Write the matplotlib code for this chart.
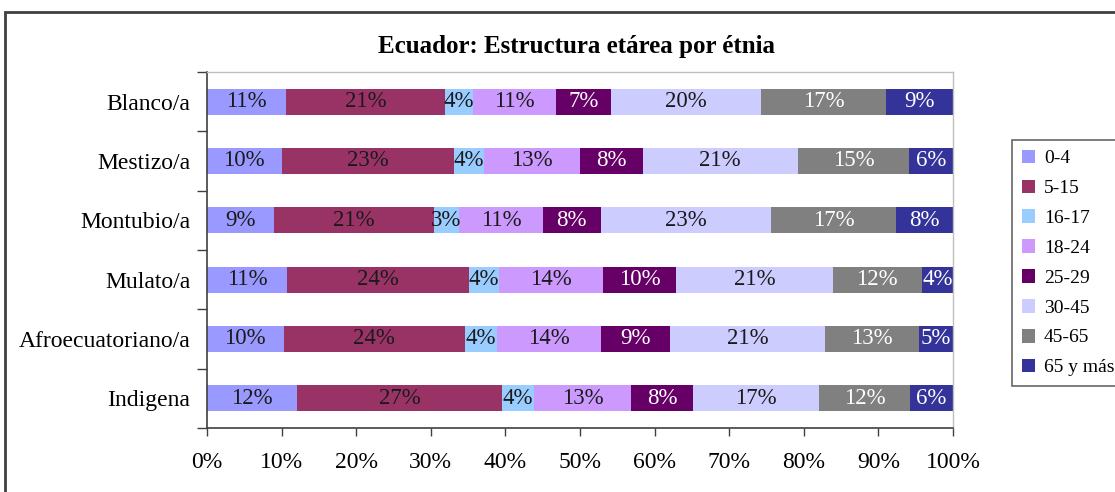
import matplotlib
matplotlib.use("Agg")
import matplotlib.pyplot as plt
from matplotlib.patches import Rectangle
import numpy as np

categories = ["Blanco/a", "Mestizo/a", "Montubio/a", "Mulato/a", "Afroecuatoriano/a", "Indigena"]
age_groups = ["0-4", "5-15", "16-17", "18-24", "25-29", "30-45", "45-65", "65 y más"]
# shares (%) per ethnic group, in age-group order
blanco = [10.6, 21.3, 3.8, 11.1, 7.3, 20.2, 16.7, 9.0]
mestizo = [10.0, 23.1, 4.0, 12.9, 8.4, 20.8, 14.9, 5.9]
montubio = [9.0, 21.4, 3.4, 11.2, 7.8, 22.8, 16.8, 7.6]
mulato = [10.7, 24.4, 4.1, 13.9, 9.8, 21.0, 11.9, 4.2]
afro = [10.3, 24.3, 4.3, 14.0, 9.3, 20.8, 12.6, 4.6]
indigena = [12.1, 27.4, 4.4, 13.0, 8.2, 17.0, 12.1, 5.8]
data = [blanco, mestizo, montubio, mulato, afro, indigena]

colors = ["#9999FF", "#993366", "#99CCFF", "#CC99FF", "#660066", "#CCCCFF", "#808080", "#333399"]
text_colors = ["#1a1a1a", "#1a1a1a", "#1a1a1a", "#1a1a1a", "white", "#1a1a1a", "white", "white"]
x_ticks = [0, 10, 20, 30, 40, 50, 60, 70, 80, 90, 100]

FONT = "Liberation Serif"
plt.rcParams["font.family"] = FONT

fig = plt.figure(figsize=(11.15, 4.92), dpi=100)
ax = fig.add_axes([207/1115, 1-428/492, 746/1115, 356/492])

raw = np.array(data, dtype=float)
arr = raw / raw.sum(axis=1, keepdims=True)
y = np.arange(len(categories))
left = np.zeros(len(categories))
for j, grp in enumerate(age_groups):
    vals = arr[:, j]
    ax.barh(y, vals, left=left, height=0.44, color=colors[j], label=grp, zorder=2)
    for i in range(len(categories)):
        ax.text(left[i] + vals[i] / 2, y[i], f"{raw[i, j]:.0f}%",
                ha="center", va="center", fontsize=16.5, color=text_colors[j], zorder=3)
    left += vals

ax.set_xlim(0, 1)
ax.set_ylim(len(categories) - 0.5, -0.5)
ax.set_xticks(np.array(x_ticks) / 100)
ax.set_xticklabels([f"{t}%" for t in x_ticks], fontsize=17)
ax.tick_params(axis="x", direction="out", length=6, width=1, color="#404040", pad=11)
ax.set_yticks(np.arange(-0.5, len(categories)), minor=False)
ax.set_yticklabels([])
ax.set_yticks(y, minor=True)
ax.set_yticklabels(categories, minor=True, fontsize=17)
ax.tick_params(axis="y", which="major", direction="out", length=7, width=1, color="#404040")
ax.tick_params(axis="y", which="minor", length=0, pad=12)

for s in ["top", "right"]:
    ax.spines[s].set_color("#bfbfbf")
    ax.spines[s].set_linewidth(1)
for s in ["left", "bottom"]:
    ax.spines[s].set_color("#404040")
    ax.spines[s].set_linewidth(1.2)

fig.text(576/1115, 1-46/492, "Ecuador: Estructura etárea por étnia", ha="center", va="center",
         fontsize=18, fontweight="bold")

handles, labels = ax.get_legend_handles_labels()
leg = fig.legend(handles, labels, loc="upper left", bbox_to_anchor=(1012/1115, 1-140/492),
                 frameon=True, fancybox=False, edgecolor="#404040", fontsize=14,
                 handlelength=0.7, handleheight=0.7, handletextpad=0.45, labelspacing=0.63,
                 borderpad=0.5, borderaxespad=0)
leg.get_frame().set_linewidth(1.2)

fig.patches.append(Rectangle((5/1115, -0.1), 1.2, 1.1 - 12/492, transform=fig.transFigure,
                             fill=False, edgecolor="#404040", linewidth=2))

fig.savefig("out.png", dpi=100)
